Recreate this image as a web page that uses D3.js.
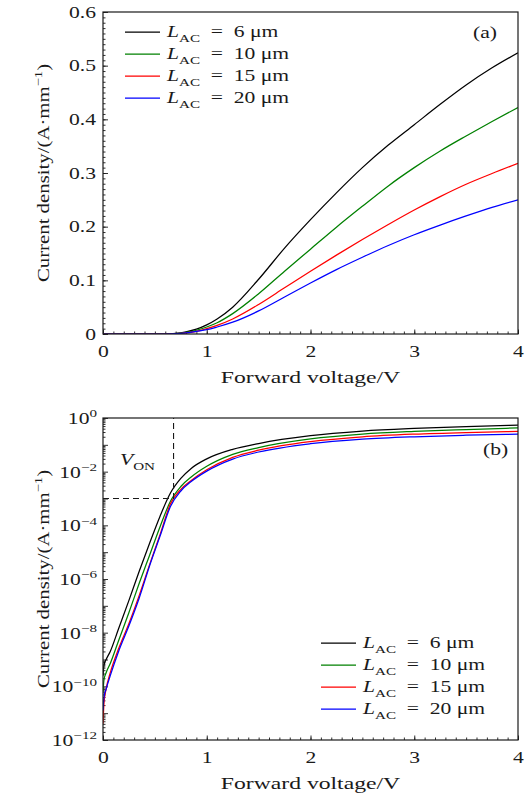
<!DOCTYPE html>
<html>
<head>
<meta charset="utf-8">
<script src="https://cdn.jsdelivr.net/npm/d3@7"></script>
<style>
  body { margin: 0; background: #fff; }
  svg text { font-family: "Liberation Serif", "DejaVu Serif", serif; fill: #1a1a1a; }
</style>
</head>
<body>
<div id="chart"></div>
<script>
// ---- data, panel (a): linear current density ----
const voltA = [0, 0.5, 0.6, 0.7, 0.8, 0.9, 1.0, 1.1, 1.25, 1.5, 1.75, 2.0, 2.25, 2.5, 2.75, 3.0, 3.25, 3.5, 3.75, 4.0];
const jA6  = [0, 0, 0, 0.001, 0.004, 0.009, 0.017, 0.028, 0.050, 0.102, 0.160, 0.213, 0.263, 0.310, 0.352, 0.390, 0.428, 0.464, 0.496, 0.524];
const jA10 = [0, 0, 0, 0.0008, 0.003, 0.007, 0.013, 0.021, 0.038, 0.075, 0.117, 0.158, 0.199, 0.238, 0.276, 0.310, 0.341, 0.369, 0.396, 0.422];
const jA15 = [0, 0, 0, 0.0006, 0.002, 0.005, 0.010, 0.016, 0.028, 0.055, 0.086, 0.117, 0.147, 0.176, 0.204, 0.231, 0.256, 0.279, 0.299, 0.318];
const jA20 = [0, 0, 0, 0.0005, 0.002, 0.005, 0.008, 0.013, 0.022, 0.043, 0.069, 0.095, 0.120, 0.143, 0.165, 0.185, 0.203, 0.220, 0.236, 0.250];

// ---- data, panel (b): log current density ----
const voltB = [0, 0.01, 0.03, 0.07, 0.15, 0.25, 0.35, 0.45, 0.55, 0.65, 0.75, 0.85, 1.0, 1.25, 1.5, 2.0, 2.5, 3.0, 3.5, 4.0];
const jB6  = [2.5e-10, 6.3e-10, 1.0e-9, 2.0e-9, 1.4e-8, 1.6e-7, 2.0e-6, 2.2e-5, 2.2e-4, 1.6e-3, 5.6e-3, 1.32e-2, 3.0e-2, 6.8e-2, 0.112, 0.219, 0.324, 0.407, 0.479, 0.537];
const jB10 = [6.3e-11, 1.8e-10, 3.2e-10, 7.1e-10, 5.0e-9, 5.6e-8, 7.1e-7, 7.9e-6, 8.9e-5, 7.9e-4, 2.8e-3, 6.3e-3, 1.58e-2, 4.4e-2, 7.9e-2, 0.166, 0.251, 0.316, 0.372, 0.427];
const jB15 = [4.0e-12, 2.5e-11, 7.9e-11, 3.2e-10, 2.5e-9, 2.2e-8, 2.5e-7, 3.5e-6, 4.5e-5, 6.3e-4, 2.2e-3, 4.7e-3, 1.17e-2, 3.4e-2, 6.3e-2, 0.132, 0.200, 0.251, 0.288, 0.316];
const jB20 = [1.26e-11, 4.0e-11, 7.9e-11, 2.5e-10, 2.0e-9, 1.8e-8, 2.0e-7, 3.2e-6, 4.0e-5, 5.0e-4, 1.9e-3, 4.3e-3, 1.05e-2, 2.95e-2, 5.4e-2, 0.110, 0.162, 0.200, 0.229, 0.251];

const lengths = ["6", "10", "15", "20"];
const colors = ["#000000", "#008000", "#ff0000", "#0000ff"];

const xTicks = [0, 1, 2, 3, 4];
const yTicksA = [0, 0.1, 0.2, 0.3, 0.4, 0.5, 0.6];
const yLabelsA = ["0", "0.1", "0.2", "0.3", "0.4", "0.5", "0.6"];
const yTicksB = [1e0, 1e-2, 1e-4, 1e-6, 1e-8, 1e-10, 1e-12];
const yExpB = ["0", "\u22122", "\u22124", "\u22126", "\u22128", "\u221210", "\u221212"];

const vOn = 0.68;
const jOn = 1e-3;

// ---- layout ----
const width = 529, height = 797;
const left = 103, right = 518;
const FS = 16;
const SX = 1.35;   // the reference typeface is wide
const SXT = 1.48;  // x title
const SXY = 1.3;   // y title

const svg = d3.select("#chart").append("svg")
  .attr("width", width)
  .attr("height", height);

const x = d3.scaleLinear().domain([0, 4]).range([left, right]);
const yA = d3.scaleLinear().domain([0, 0.6]).range([334, 12]);
const yB = d3.scaleLog().domain([1e-12, 1]).range([740, 418]);

// text with italic / sub / sup pieces, stretched horizontally
const addParts = (text, parts, size) => {
  let shift = 0;
  parts.forEach((p) => {
    const target = p.sub ? size * 0.3 : p.sup ? -size * 0.42 : 0;
    const ts = text.append("tspan").text(p.t).attr("dy", target - shift);
    shift = target;
    if (p.sub || p.sup) ts.attr("font-size", size * 0.7);
    if (p.it) ts.style("font-style", "italic");
  });
};

const label = (parent, px, py, parts, opts = {}) => {
  const size = opts.size || FS;
  const g = parent.append("g")
    .attr("transform", `translate(${px},${py})` + (opts.rotate ? ` rotate(${opts.rotate})` : ""));
  const t = g.append("text")
    .attr("transform", `scale(${opts.sx || SX},1)`)
    .attr("font-size", size)
    .attr("text-anchor", opts.anchor || "start");
  addParts(t, parts, size);
  return g;
};

const drawPanel = (y, yTicks, yMinor, majorY, labelFn, volts, series, top, bottom) => {
  const g = svg.append("g");

  // x ticks (inward)
  const gx = g.append("g").attr("transform", `translate(0,${bottom})`);
  gx.call(d3.axisBottom(x).tickValues(d3.range(0, 4.001, 0.1)).tickSize(-2.5).tickSizeOuter(0).tickFormat(""));
  gx.append("g").call(d3.axisBottom(x).tickValues(xTicks).tickSize(-4.5).tickSizeOuter(0).tickFormat(""))
    .selectAll(".tick").each(function (d) {
      label(d3.select(this), 0, 23, [{ t: String(d) }], { anchor: "middle" });
    });

  // y ticks (inward)
  const gy = g.append("g").attr("transform", `translate(${left},0)`);
  gy.call(d3.axisLeft(y).tickValues(yMinor).tickSize(-2.5).tickSizeOuter(0).tickFormat(""));
  gy.append("g").call(d3.axisLeft(y).tickValues(majorY).tickSize(-5).tickSizeOuter(0).tickFormat(""));
  gy.append("g").call(d3.axisLeft(y).tickValues(yTicks).tickSize(0).tickSizeOuter(0).tickFormat(""))
    .selectAll(".tick").each(function (d, i) {
      labelFn(d3.select(this), i);
    });
  g.selectAll(".domain").remove();
  g.selectAll(".tick line").attr("stroke", "#1a1a1a").attr("stroke-width", 0.9);

  // curves
  const clipId = "clip" + top;
  g.append("clipPath").attr("id", clipId).append("rect")
    .attr("x", left).attr("y", top).attr("width", right - left).attr("height", bottom - top);
  const line = d3.line()
    .x((d, i) => x(volts[i]))
    .y((d) => y(d))
    .curve(d3.curveMonotoneX);
  g.append("g").attr("clip-path", `url(#${clipId})`)
    .selectAll("path").data(series).enter().append("path")
    .attr("d", (d) => line(d))
    .attr("fill", "none")
    .attr("stroke", (d, i) => colors[i])
    .attr("stroke-width", 1.25);

  // frame
  g.append("rect")
    .attr("x", left).attr("y", top)
    .attr("width", right - left).attr("height", bottom - top)
    .attr("fill", "none").attr("stroke", "#1a1a1a").attr("stroke-width", 1.2);

  // axis titles
  label(g, (left + right) / 2, bottom + 49, [{ t: "Forward voltage/V" }], { anchor: "middle", sx: SXT });
  label(g, 49, (top + bottom) / 2, [
    { t: "Current density/(A\u00b7mm" }, { t: "\u22121", sup: true }, { t: ")" }
  ], { anchor: "middle", rotate: -90, sx: SXY });

  return g;
};

const legend = (g, lx, ly) => {
  lengths.forEach((len, i) => {
    const yy = ly + i * 22;
    g.append("line")
      .attr("x1", lx).attr("x2", lx + 35)
      .attr("y1", yy).attr("y2", yy)
      .attr("stroke", colors[i]).attr("stroke-width", 1.25);
    label(g, lx + 42, yy + 5, [
      { t: "L", it: true }, { t: "AC", sub: true }, { t: "\u2002=\u2002" + len + " \u03bcm" }
    ]);
  });
};

// ---- panel (a) ----
const minorA = d3.range(0, 0.6001, 0.01);
const pa = drawPanel(yA, yTicksA, minorA, yTicksA, (tick, i) => {
  label(tick, -7, 5, [{ t: yLabelsA[i] }], { anchor: "end" });
}, voltA, [jA6, jA10, jA15, jA20], 12, 334);
legend(pa, 125, 32);
label(pa, 473, 38, [{ t: "(a)" }]);

// ---- panel (b) ----
const minorB = [];
for (let e = -12; e < 0; e++) {
  for (let m = 2; m <= 9; m++) minorB.push(m * Math.pow(10, e));
}
const decadesB = d3.range(-12, 1).map((e) => Math.pow(10, e));
const pb = drawPanel(yB, yTicksB, minorB, decadesB, (tick, i) => {
  label(tick, -6, 5.5, [{ t: "10" }, { t: yExpB[i], sup: true }], { anchor: "end" });
}, voltB, [jB6, jB10, jB15, jB20], 418, 740);
legend(pb, 321, 643);
label(pb, 483, 455, [{ t: "(b)" }]);
label(pb, 120, 465, [{ t: "V", it: true }, { t: "ON", sub: true }]);

pb.append("path")
  .attr("d", d3.line()([[x(0), yB(jOn)], [x(vOn), yB(jOn)], [x(vOn), yB(1)]]))
  .attr("fill", "none")
  .attr("stroke", "#1a1a1a")
  .attr("stroke-width", 1.1)
  .attr("stroke-dasharray", "6,4");
</script>
</body>
</html>
